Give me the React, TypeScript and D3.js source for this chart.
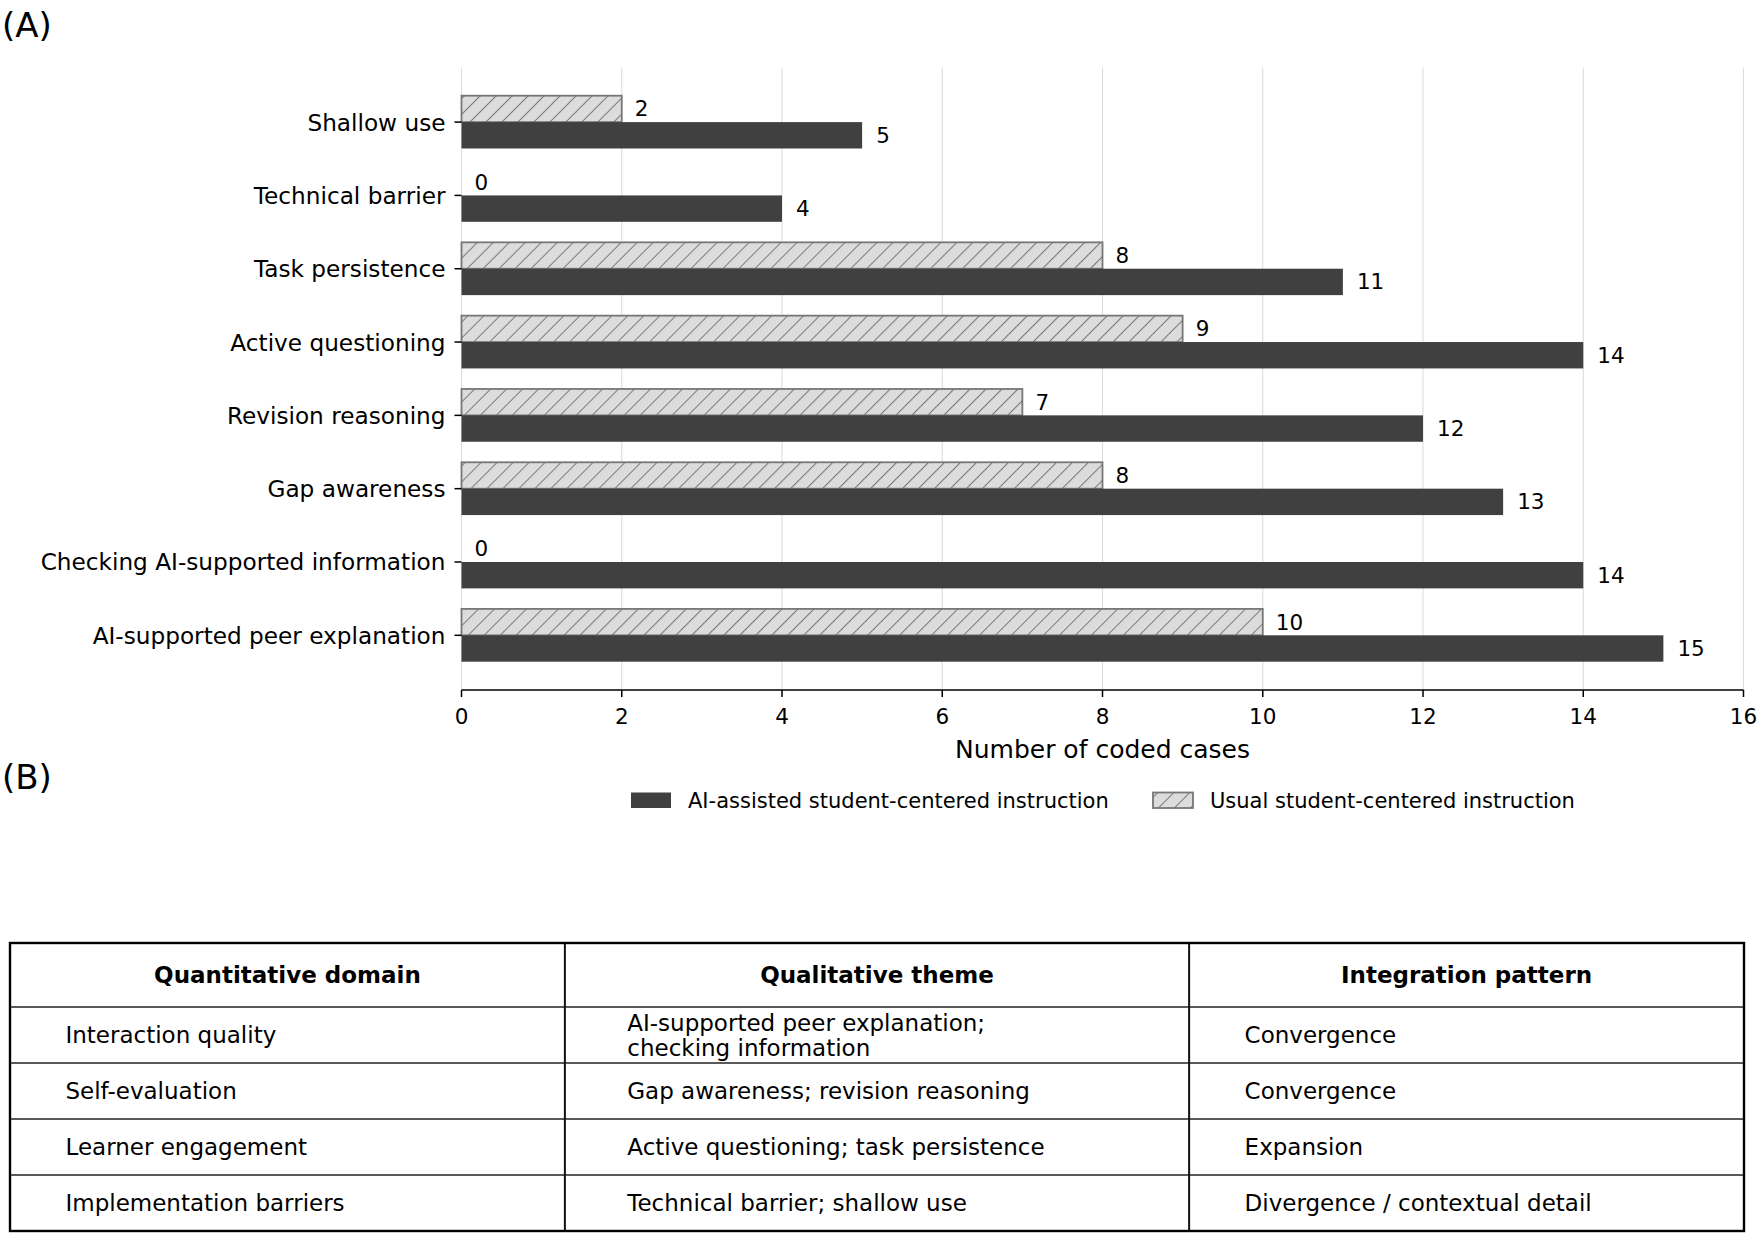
import React from "react";
import * as d3 from "d3";

const categories = [
  "Shallow use",
  "Technical barrier",
  "Task persistence",
  "Active questioning",
  "Revision reasoning",
  "Gap awareness",
  "Checking AI-supported information",
  "AI-supported peer explanation",
];
const aiAssisted = [5, 4, 11, 14, 12, 13, 14, 15];
const usual = [2, 0, 8, 9, 7, 8, 0, 10];
const xTicks = [0, 2, 4, 6, 8, 10, 12, 14, 16];
const seriesNames = ["AI-assisted student-centered instruction", "Usual student-centered instruction"];

const tableHeaders = ["Quantitative domain", "Qualitative theme", "Integration pattern"];
const domainCol = ["Interaction quality", "Self-evaluation", "Learner engagement", "Implementation barriers"];
const themeCol = [
  ["AI-supported peer explanation;", "checking information"],
  ["Gap awareness; revision reasoning"],
  ["Active questioning; task persistence"],
  ["Technical barrier; shallow use"],
];
const patternCol = ["Convergence", "Convergence", "Expansion", "Divergence / contextual detail"];
const colFractions = [0.32, 0.36, 0.32];

const FONT = "DejaVu Sans, sans-serif";
const DARK = "#404040";
const HATCH_FILL = "#dcdcdc";
const HATCH_EDGE = "#777777";

export default function App() {
  const W = 1760;
  const H = 1240;
  const x = d3.scaleLinear().domain([0, 16]).range([461.5, 1743.5]);
  const barH = 0.36;
  const y = d3.scaleLinear().domain([-0.746, 7.746]).range([67.4, 690]);
  const axisY = 690;

  // table geometry
  const tLeft = 10;
  const tRight = 1744;
  const tTop = 943;
  const headerH = 64;
  const rowH = 56;
  const tW = tRight - tLeft;
  const colX: number[] = [tLeft];
  colFractions.forEach((f, i) => colX.push(colX[i] + f * tW));
  const rowsY = [tTop, tTop + headerH];
  for (let i = 0; i < domainCol.length; i++) rowsY.push(rowsY[rowsY.length - 1] + rowH);
  const tBottom = rowsY[rowsY.length - 1];

  const colsData = [domainCol.map((d) => [d]), themeCol, patternCol.map((d) => [d])];
  const hs = 11.3;

  return (
    <svg
      width={W}
      height={H}
      viewBox={`0 0 ${W} ${H}`}
      style={{ position: "absolute", left: 0, top: 0, background: "#fff" }}
      fontFamily={FONT}
    >
      <defs>
        <pattern id="hatch" patternUnits="userSpaceOnUse" width={hs} height={hs} patternTransform="rotate(45)">
          <rect width={hs} height={hs} fill={HATCH_FILL} />
          <line x1="0" y1="0" x2="0" y2={hs} stroke={HATCH_EDGE} strokeWidth="2" />
        </pattern>
      </defs>
      <rect x={0} y={0} width={W} height={H} fill="#fff" />

      {/* Panel labels */}
      <text x={2} y={37} fontSize={34} fill="#000">(A)</text>
      <text x={2} y={789} fontSize={34} fill="#000">(B)</text>

      {/* Grid */}
      {xTicks.map((t) => (
        <line key={"g" + t} x1={x(t)} x2={x(t)} y1={y(-0.746)} y2={axisY} stroke="#dcdcdc" strokeWidth={1.1} />
      ))}

      {/* Bars */}
      {categories.map((c, i) => {
        const cy = y(i);
        const top = y(i - barH);
        const bot = y(i + barH);
        const uW = x(usual[i]) - x(0);
        const aW = x(aiAssisted[i]) - x(0);
        return (
          <g key={c}>
            <rect x={x(0)} y={top} width={Math.max(uW, 0)} height={cy - top} fill="url(#hatch)" stroke={HATCH_EDGE} strokeWidth={1.8} />
            <rect x={x(0)} y={cy} width={aW} height={bot - cy} fill={DARK} />
            <text x={x(usual[i]) + 13} y={(top + cy) / 2} fontSize={21.5} dominantBaseline="central" fill="#000">
              {usual[i]}
            </text>
            <text x={x(aiAssisted[i]) + 14} y={(cy + bot) / 2} fontSize={21.5} dominantBaseline="central" fill="#000">
              {aiAssisted[i]}
            </text>
            <line x1={x(0) - 7} x2={x(0)} y1={cy} y2={cy} stroke="#000" strokeWidth={1.5} />
            <text x={x(0) - 16} y={cy} fontSize={23.2} textAnchor="end" dominantBaseline="central" fill="#000">
              {c}
            </text>
          </g>
        );
      })}

      {/* X axis */}
      <line x1={x(0)} x2={x(16)} y1={axisY} y2={axisY} stroke="#000" strokeWidth={1.6} />
      {xTicks.map((t) => (
        <g key={"t" + t}>
          <line x1={x(t)} x2={x(t)} y1={axisY} y2={axisY + 7} stroke="#000" strokeWidth={1.5} />
          <text x={x(t)} y={axisY + 26} fontSize={21.5} textAnchor="middle" dominantBaseline="central" fill="#000">
            {t}
          </text>
        </g>
      ))}
      <text x={(x(0) + x(16)) / 2} y={749} fontSize={25} textAnchor="middle" dominantBaseline="central" fill="#000">
        Number of coded cases
      </text>

      {/* Legend */}
      <rect x={631} y={792.5} width={40} height={15.5} fill={DARK} />
      <text x={688} y={800.5} fontSize={21} dominantBaseline="central" fill="#000">{seriesNames[0]}</text>
      <rect x={1153} y={792.5} width={40} height={15.5} fill="url(#hatch)" stroke={HATCH_EDGE} strokeWidth={1.8} />
      <text x={1210} y={800.5} fontSize={21} dominantBaseline="central" fill="#000">{seriesNames[1]}</text>

      {/* Table */}
      {rowsY.slice(1, -1).map((ry, i) => (
        <line key={"hr" + i} x1={tLeft} x2={tRight} y1={ry} y2={ry} stroke="#222" strokeWidth={1.6} />
      ))}
      {colX.slice(1, -1).map((cx, i) => (
        <line key={"vr" + i} x1={cx} x2={cx} y1={tTop} y2={tBottom} stroke="#111" strokeWidth={2} />
      ))}
      <rect x={tLeft} y={tTop} width={tW} height={tBottom - tTop} fill="none" stroke="#000" strokeWidth={2.4} />
      {tableHeaders.map((h, j) => (
        <text
          key={h}
          x={(colX[j] + colX[j + 1]) / 2}
          y={(rowsY[0] + rowsY[1]) / 2}
          fontSize={23}
          fontWeight="bold"
          textAnchor="middle"
          dominantBaseline="central"
          fill="#000"
        >
          {h}
        </text>
      ))}
      {colsData.map((col, j) =>
        col.map((lines, r) => {
          const cy = (rowsY[r + 1] + rowsY[r + 2]) / 2;
          const pad = 0.1 * (colX[j + 1] - colX[j]);
          const lh = 25;
          return lines.map((ln, k) => (
            <text
              key={`c${j}-${r}-${k}`}
              x={colX[j] + pad}
              y={cy + (k - (lines.length - 1) / 2) * lh}
              fontSize={23}
              dominantBaseline="central"
              fill="#000"
            >
              {ln}
            </text>
          ));
        })
      )}
    </svg>
  );
}
